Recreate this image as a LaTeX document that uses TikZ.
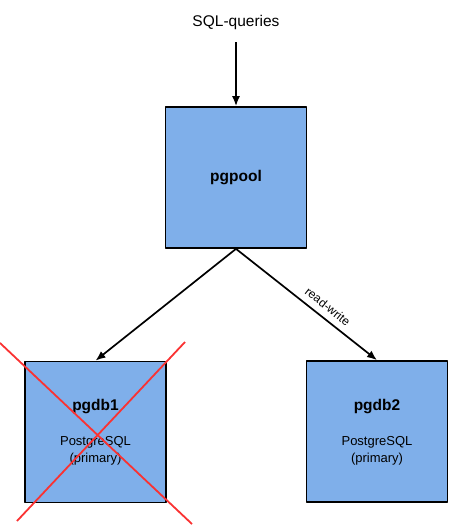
\documentclass[tikz,border=0pt]{standalone}
\usepackage{fontspec}
\setmainfont{Liberation Sans}
\usetikzlibrary{arrows.meta}
\definecolor{boxblue}{RGB}{127,175,234}
\definecolor{crossred}{RGB}{250,50,50}
\tikzset{
  dbbox/.style={draw=black, fill=boxblue, line width=1.7pt, minimum width=141pt, minimum height=141pt, inner sep=0pt},
  boxname/.style={font=\fontsize{15.5}{18}\selectfont\bfseries},
  boxinfo/.style={align=center, font=\fontsize{13}{17}\selectfont},
  conn/.style={->, line width=1.7pt}
}
\begin{document}
\begin{tikzpicture}[x=1pt, y=-1pt, line join=round, >={Latex[length=10pt,width=8pt]}]
\useasboundingbox (0,0) rectangle (462,531);
\node[font=\fontsize{15.5}{18}\selectfont] (sql) at (236,22) {SQL-queries};
\coordinate (sqlend) at (236,42);
\node[dbbox, boxname] (pgpool) at (236,177.5) {pgpool};
\node[dbbox] (pgdb1) at (95.5,432) {};
\node[dbbox] (pgdb2) at (377,431.5) {};
\node[boxname] (name1) at (95.5,407) {pgdb1};
\node[boxinfo] (info1) at (95.5,451) {PostgreSQL\\(primary)};
\node[boxname] (name2) at (377,407) {pgdb2};
\node[boxinfo] (info2) at (377,451) {PostgreSQL\\(primary)};
\draw[conn] (sqlend) -- (pgpool.north);
\draw[conn] (pgpool.south) -- (pgdb1.north);
\draw[conn] (pgpool.south) -- node[above=3pt, sloped, pos=0.6, font=\fontsize{12}{14}\selectfont] {read-write} (pgdb2.north);
% failed node
\draw[crossred, line width=1.8pt] (0,343) -- (192,524);
\draw[crossred, line width=1.8pt] (185,342) -- (17,521);
\end{tikzpicture}
\end{document}
